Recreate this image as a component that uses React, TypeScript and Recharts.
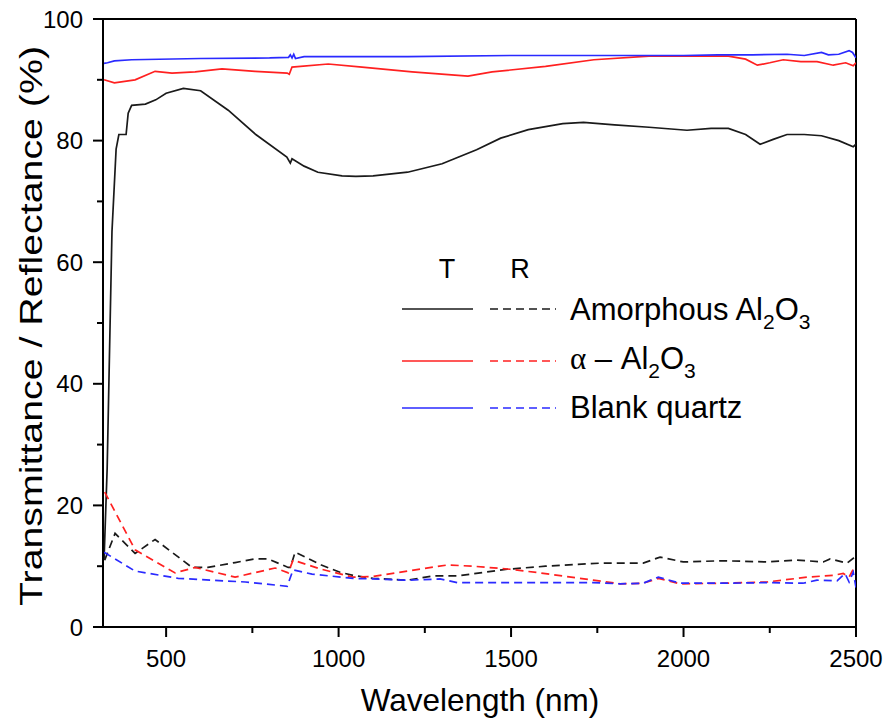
import { LineChart, Line, XAxis, YAxis, ReferenceLine } from "recharts";

const FONT = "'Liberation Sans', Arial, Helvetica, sans-serif";
const BLACK = "#1a1a1a";
const RED = "#ff2020";
const BLUE = "#2a2aff";

// Transmittance (solid lines)
const amorphousT_nm = [320, 329, 343, 355, 363, 384, 390, 400, 440, 470, 500, 550, 600, 680, 760, 850, 860, 865, 900, 940, 1010, 1050, 1100, 1200, 1300, 1400, 1470, 1550, 1650, 1710, 1800, 1900, 2010, 2080, 2130, 2180, 2222, 2260, 2300, 2350, 2400, 2450, 2492, 2500];
const amorphousT = [11, 26, 65, 78.6, 81, 81, 84.5, 85.8, 86, 86.7, 87.8, 88.6, 88.2, 85, 81, 77.3, 76.3, 77, 75.8, 74.8, 74.2, 74.1, 74.2, 74.8, 76.2, 78.5, 80.4, 81.8, 82.8, 83, 82.6, 82.2, 81.7, 82, 82, 81, 79.4, 80.2, 81, 81, 80.8, 80, 79, 79.4];

const alphaT_nm = [320, 350, 410, 468, 517, 584, 662, 758, 851, 857, 865, 970, 1068, 1213, 1375, 1445, 1600, 1740, 1900, 2130, 2180, 2214, 2250, 2289, 2340, 2387, 2434, 2470, 2492, 2500];
const alphaT = [90, 89.5, 90, 91.4, 91.1, 91.3, 91.8, 91.4, 91.1, 90.9, 92.1, 92.6, 92.1, 91.3, 90.6, 91.3, 92.2, 93.3, 93.9, 93.9, 93.4, 92.4, 92.8, 93.3, 93.0, 93, 92.4, 92.8, 92.3, 92.8];

const quartzT_nm = [320, 330, 350, 400, 600, 800, 855, 860, 865, 870, 875, 900, 1200, 1500, 1800, 2000, 2100, 2200, 2300, 2350, 2400, 2420, 2450, 2480, 2490, 2500];
const quartzT = [92.7, 92.8, 93.1, 93.3, 93.5, 93.6, 93.7, 94.1, 93.6, 94.2, 93.5, 93.8, 93.8, 94, 94, 94, 94.1, 94.1, 94.2, 94, 94.5, 94.1, 94.2, 94.8, 94.5, 93.6];

// Reflectance (dashed lines)
const amorphousR_nm = [322, 352, 410, 468, 575, 621, 700, 758, 795, 854, 860, 874, 950, 1004, 1042, 1100, 1199, 1274, 1344, 1489, 1600, 1758, 1825, 1883, 1932, 1999, 2115, 2242, 2329, 2405, 2425, 2474, 2492, 2500];
const amorphousR = [11, 15.4, 12.1, 14.4, 9.8, 9.8, 10.6, 11.2, 11.2, 9.8, 9.8, 12.3, 10.2, 9, 8.5, 8.0, 7.7, 8.4, 8.4, 9.5, 10.0, 10.5, 10.5, 10.5, 11.5, 10.7, 10.9, 10.7, 11, 10.7, 11.2, 10.5, 11.3, 10.5];

const alphaR_nm = [322, 410, 526, 584, 700, 816, 854, 868, 950, 1042, 1100, 1199, 1315, 1390, 1497, 1584, 1738, 1816, 1883, 1927, 1990, 2115, 2242, 2358, 2434, 2463, 2480, 2492, 2500];
const alphaR = [22.2, 12.7, 8.9, 9.8, 8.2, 9.7, 8.9, 11, 9.5, 8.2, 8.3, 9.2, 10.2, 10, 9.5, 8.9, 7.7, 7.1, 7.2, 8, 7.1, 7.2, 7.4, 8.2, 8.5, 8.8, 8.2, 9.5, 9];

const quartzR_nm = [320, 410, 535, 730, 851, 868, 923, 1042, 1100, 1199, 1294, 1344, 1489, 1738, 1816, 1883, 1927, 1990, 2115, 2242, 2346, 2387, 2445, 2468, 2480, 2492, 2500];
const quartzR = [12.3, 9.2, 8, 7.4, 6.7, 9.4, 8.7, 8, 7.9, 7.7, 7.9, 7.3, 7.3, 7.3, 7.1, 7.2, 8.2, 7.2, 7.2, 7.3, 7.2, 7.7, 7.6, 8.8, 7.4, 9, 6.5];

const X_TICKS = [500, 750, 1000, 1250, 1500, 1750, 2000, 2250, 2500];
const X_MAJOR = [500, 1000, 1500, 2000, 2500];
const Y_TICKS = [0, 10, 20, 30, 40, 50, 60, 70, 80, 90, 100];
const Y_MAJOR = [0, 20, 40, 60, 80, 100];

const rows = (nm: number[], v: number[]) => nm.map((x, i) => ({ nm: x, v: v[i] }));

const XTick = ({ x, y, payload }: any) => {
  const major = X_MAJOR.includes(payload.value);
  return (
    <g>
      <line x1={x} x2={x} y1={y} y2={y + (major ? 10 : 6)} stroke="#000" strokeWidth={2} />
      {major && (
        <text x={x} y={y + 40} textAnchor="middle" fontSize={24} fontFamily={FONT} fill="#000">
          {payload.value}
        </text>
      )}
    </g>
  );
};

const YTick = ({ x, y, payload }: any) => {
  const major = Y_MAJOR.includes(payload.value);
  return (
    <g>
      <line x1={x} x2={x - (major ? 10 : 6)} y1={y} y2={y} stroke="#000" strokeWidth={2} />
      {major && (
        <text x={x - 20} y={y + 8.5} textAnchor="end" fontSize={24} fontFamily={FONT} fill="#000">
          {payload.value}
        </text>
      )}
    </g>
  );
};

const series = [
  { key: "aT", nm: amorphousT_nm, v: amorphousT, color: BLACK, dash: undefined },
  { key: "rT", nm: alphaT_nm, v: alphaT, color: RED, dash: undefined },
  { key: "qT", nm: quartzT_nm, v: quartzT, color: BLUE, dash: undefined },
  { key: "aR", nm: amorphousR_nm, v: amorphousR, color: BLACK, dash: "8 5" },
  { key: "rR", nm: alphaR_nm, v: alphaR, color: RED, dash: "8 5" },
  { key: "qR", nm: quartzR_nm, v: quartzR, color: BLUE, dash: "8 5" },
];

const legendRows = [
  { y: 309, color: BLACK },
  { y: 361, color: RED },
  { y: 408, color: BLUE },
];

export default function App() {
  return (
    <div style={{ position: "absolute", left: 0, top: 0, width: 888, height: 726, background: "#fff" }}>
      <LineChart width={888} height={726} margin={{ top: 19, right: 32, left: 0, bottom: 0 }}>
        <XAxis
          dataKey="nm"
          type="number"
          domain={[317, 2500]}
          allowDataOverflow
          ticks={X_TICKS}
          interval={0}
          tick={<XTick />}
          tickLine={false}
          tickSize={0}
          tickMargin={0}
          axisLine={{ stroke: "#000", strokeWidth: 2 }}
          height={99}
        />
        <YAxis
          type="number"
          domain={[0, 100]}
          allowDataOverflow
          ticks={Y_TICKS}
          interval={0}
          tick={<YTick />}
          tickLine={false}
          tickSize={0}
          tickMargin={0}
          axisLine={{ stroke: "#000", strokeWidth: 2 }}
          width={103}
        />
        <ReferenceLine y={100} stroke="#000" strokeWidth={2} />
        <ReferenceLine x={2500} stroke="#000" strokeWidth={2} />
        {series.map((s) => (
          <Line
            key={s.key}
            data={rows(s.nm, s.v)}
            dataKey="v"
            type="linear"
            stroke={s.color}
            strokeWidth={1.7}
            strokeDasharray={s.dash}
            dot={false}
            activeDot={false}
            isAnimationActive={false}
          />
        ))}
      </LineChart>

      {/* axis titles and legend */}
      <svg width={888} height={726} style={{ position: "absolute", left: 0, top: 0, pointerEvents: "none" }}>
        <text x={480} y={711} textAnchor="middle" fontSize={31.5} fontFamily={FONT} fill="#000">
          Wavelength (nm)
        </text>
        <text
          transform="translate(42 326) rotate(-90)"
          textAnchor="middle"
          fontSize={32}
          fontFamily={FONT}
          fill="#000"
          textLength={560}
          lengthAdjust="spacingAndGlyphs"
        >
          Transmittance / Reflectance (%)
        </text>

        <text x={447} y={278} textAnchor="middle" fontSize={27} fontFamily={FONT}>T</text>
        <text x={520} y={278} textAnchor="middle" fontSize={27} fontFamily={FONT}>R</text>
        {legendRows.map((r) => (
          <g key={r.y}>
            <line x1={402} x2={473} y1={r.y} y2={r.y} stroke={r.color} strokeWidth={1.7} />
            <line x1={490} x2={556} y1={r.y} y2={r.y} stroke={r.color} strokeWidth={1.7} strokeDasharray="8 5" />
          </g>
        ))}
        <text x={570} y={320} fontSize={31} fontFamily={FONT}>
          Amorphous Al<tspan fontSize={21} dy={9}>2</tspan>
          <tspan dy={-9}>O</tspan>
          <tspan fontSize={21} dy={9}>3</tspan>
        </text>
        <text x={570} y={369} fontSize={31} fontFamily={FONT}>
          <tspan fontFamily="'Liberation Serif', serif">α</tspan> – Al<tspan fontSize={21} dy={9}>2</tspan>
          <tspan dy={-9}>O</tspan>
          <tspan fontSize={21} dy={9}>3</tspan>
        </text>
        <text x={570} y={418} fontSize={31} fontFamily={FONT}>
          Blank quartz
        </text>
      </svg>
    </div>
  );
}
